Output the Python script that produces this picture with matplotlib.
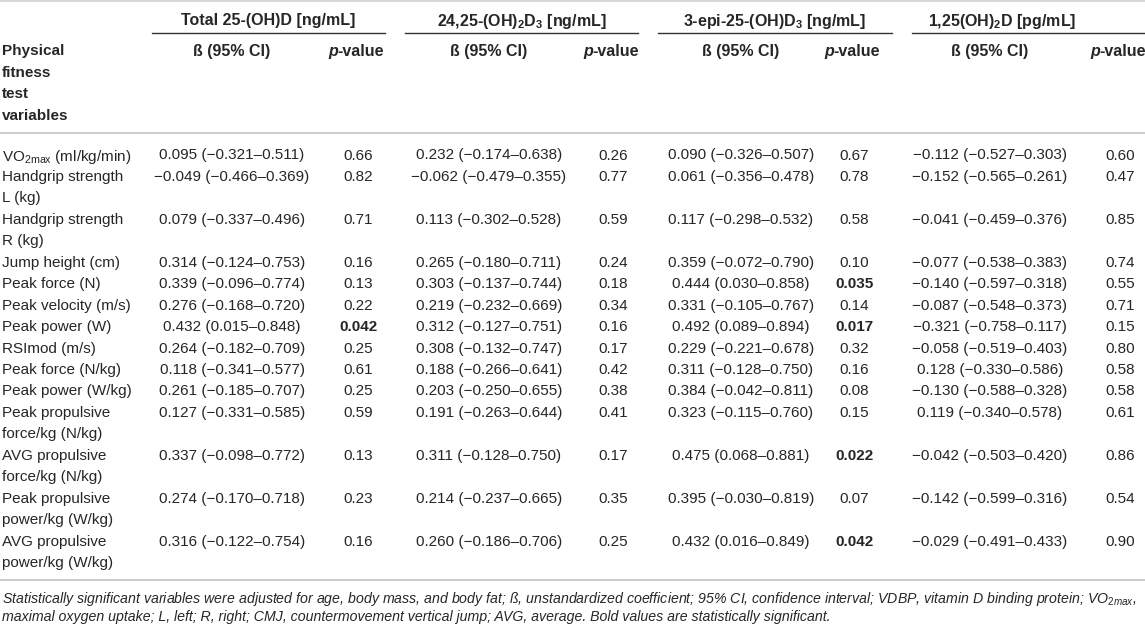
import matplotlib
matplotlib.use("Agg")
import matplotlib.pyplot as plt

# +--------------------------------------------------------+
# |                      Table values                      |
# +--------------------------------------------------------+

row_labels = [
    r"VO$_\mathrm{2max}$ (ml/kg/min)",
    "Handgrip strength\nL (kg)",
    "Handgrip strength\nR (kg)",
    "Jump height (cm)",
    "Peak force (N)",
    "Peak velocity (m/s)",
    "Peak power (W)",
    "RSImod (m/s)",
    "Peak force (N/kg)",
    "Peak power (W/kg)",
    "Peak propulsive\nforce/kg (N/kg)",
    "AVG propulsive\nforce/kg (N/kg)",
    "Peak propulsive\npower/kg (W/kg)",
    "AVG propulsive\npower/kg (W/kg)",
]

groups = [
    "Total 25-(OH)D [ng/mL]",
    r"24,25-(OH)$_\mathbf{2}$D$_\mathbf{3}$ [ng/mL]",
    r"3-epi-25-(OH)D$_\mathbf{3}$ [ng/mL]",
    r"1,25(OH)$_\mathbf{2}$D [pg/mL]",
]

# beta, lower, upper, p-value  (one list per metabolite)
total_beta = [0.095, -0.049, 0.079, 0.314, 0.339, 0.276, 0.432, 0.264, 0.118, 0.261, 0.127, 0.337, 0.274, 0.316]
total_lo = [-0.321, -0.466, -0.337, -0.124, -0.096, -0.168, 0.015, -0.182, -0.341, -0.185, -0.331, -0.098, -0.170, -0.122]
total_hi = [0.511, 0.369, 0.496, 0.753, 0.774, 0.720, 0.848, 0.709, 0.577, 0.707, 0.585, 0.772, 0.718, 0.754]
total_p = ["0.66", "0.82", "0.71", "0.16", "0.13", "0.22", "0.042", "0.25", "0.61", "0.25", "0.59", "0.13", "0.23", "0.16"]

d2425_beta = [0.232, -0.062, 0.113, 0.265, 0.303, 0.219, 0.312, 0.308, 0.188, 0.203, 0.191, 0.311, 0.214, 0.260]
d2425_lo = [-0.174, -0.479, -0.302, -0.180, -0.137, -0.232, -0.127, -0.132, -0.266, -0.250, -0.263, -0.128, -0.237, -0.186]
d2425_hi = [0.638, 0.355, 0.528, 0.711, 0.744, 0.669, 0.751, 0.747, 0.641, 0.655, 0.644, 0.750, 0.665, 0.706]
d2425_p = ["0.26", "0.77", "0.59", "0.24", "0.18", "0.34", "0.16", "0.17", "0.42", "0.38", "0.41", "0.17", "0.35", "0.25"]

epi_beta = [0.090, 0.061, 0.117, 0.359, 0.444, 0.331, 0.492, 0.229, 0.311, 0.384, 0.323, 0.475, 0.395, 0.432]
epi_lo = [-0.326, -0.356, -0.298, -0.072, 0.030, -0.105, 0.089, -0.221, -0.128, -0.042, -0.115, 0.068, -0.030, 0.016]
epi_hi = [0.507, 0.478, 0.532, 0.790, 0.858, 0.767, 0.894, 0.678, 0.750, 0.811, 0.760, 0.881, 0.819, 0.849]
epi_p = ["0.67", "0.78", "0.58", "0.10", "0.035", "0.14", "0.017", "0.32", "0.16", "0.08", "0.15", "0.022", "0.07", "0.042"]

d125_beta = [-0.112, -0.152, -0.041, -0.077, -0.140, -0.087, -0.321, -0.058, 0.128, -0.130, 0.119, -0.042, -0.142, -0.029]
d125_lo = [-0.527, -0.565, -0.459, -0.538, -0.597, -0.548, -0.758, -0.519, -0.330, -0.588, -0.340, -0.503, -0.599, -0.491]
d125_hi = [0.303, 0.261, 0.376, 0.383, 0.318, 0.373, 0.117, 0.403, 0.586, 0.328, 0.578, 0.420, 0.316, 0.433]
d125_p = ["0.60", "0.47", "0.85", "0.74", "0.55", "0.71", "0.15", "0.80", "0.58", "0.58", "0.61", "0.86", "0.54", "0.90"]

footnote = [
    "Statistically significant variables were adjusted for age, body mass, and body fat; ß, unstandardized coefficient; "
    r"95% CI, confidence interval; VDBP, vitamin D binding protein; VO$_\mathit{2max}$,",
    "maximal oxygen uptake; L, left; R, right; CMJ, countermovement vertical jump; AVG, average. "
    "Bold values are statistically significant.",
]

# +--------------------------------------------------------+
# |                        Layout                          |
# +--------------------------------------------------------+

W, H = 1145, 625
beta_x = [232, 489, 741, 990]
p_x = [358, 613, 854, 1120]
group_x = [268, 522, 775, 1002]
group_line = [(152, 385), (405, 638), (658, 892), (912, 1145)]
line_y0 = 154
pitch = 21.45

plt.rcParams['font.family'] = ['Liberation Sans', 'DejaVu Sans']
plt.rcParams['mathtext.fontset'] = 'custom'
plt.rcParams['mathtext.rm'] = 'Liberation Sans'
plt.rcParams['mathtext.it'] = 'Liberation Sans:italic'
plt.rcParams['mathtext.bf'] = 'Liberation Sans:bold'

FS = 11
HFS = 11.5
TXT = '#262626'


def fmt_num(v):
    s = "%.3f" % v
    return s.replace('-', '\u2212')


def fmt_ci(b, lo, hi):
    return "%s (%s\u2013%s)" % (fmt_num(b), fmt_num(lo), fmt_num(hi))


def p_header(ax, xc, y):
    # "p" in bold italic followed by "-value" in bold, centred on xc
    t1 = ax.text(0, y, "p", fontsize=HFS, fontweight='bold', fontstyle='italic',
                 ha='left', va='center_baseline', color=TXT)
    t2 = ax.text(0, y, "-value", fontsize=HFS, fontweight='bold',
                 ha='left', va='center_baseline', color=TXT)
    r = ax.figure.canvas.get_renderer()
    w1 = t1.get_window_extent(r).width
    w2 = t2.get_window_extent(r).width
    # 1 data unit == 1 pixel here
    start = xc - (w1 + w2) / 2.0
    t1.set_x(start)
    t2.set_x(start + w1)


def main():
    fig = plt.figure(figsize=(W / 100, H / 100), dpi=100)
    ax = fig.add_axes([0, 0, 1, 1])
    ax.set_xlim(0, W)
    ax.set_ylim(H, 0)
    ax.axis('off')

    # rules
    ax.plot([0, W], [1, 1], color='#cfcfcf', lw=1.2)
    ax.plot([0, W], [133, 133], color='#c4c4c4', lw=1.2)
    ax.plot([0, W], [580, 580], color='#c4c4c4', lw=1.2)
    for x0, x1 in group_line:
        ax.plot([x0, x1], [33, 33], color='#333333', lw=1.0)

    # headers
    for gx, g in zip(group_x, groups):
        ax.text(gx, 19, g, fontsize=HFS, fontweight='bold', ha='center',
                va='center_baseline', color=TXT)
    for bx, px in zip(beta_x, p_x):
        ax.text(bx, 50, "ß (95% CI)", fontsize=HFS, fontweight='bold',
                ha='center', va='center_baseline', color=TXT)
        p_header(ax, px - 2, 50)

    for i, w in enumerate(["Physical", "fitness", "test", "variables"]):
        ax.text(2, 50 + i * 21.4, w, fontsize=FS, fontweight='bold',
                ha='left', va='center_baseline', color=TXT)

    cols = [
        (total_beta, total_lo, total_hi, total_p),
        (d2425_beta, d2425_lo, d2425_hi, d2425_p),
        (epi_beta, epi_lo, epi_hi, epi_p),
        (d125_beta, d125_lo, d125_hi, d125_p),
    ]

    line = 0
    for r, lab in enumerate(row_labels):
        y = line_y0 + line * pitch
        for k, part in enumerate(lab.split("\n")):
            ax.text(2, y + k * pitch, part, fontsize=FS, ha='left',
                    va='center_baseline', color=TXT)
        for c, (b, lo, hi, p) in enumerate(cols):
            ax.text(beta_x[c], y, fmt_ci(b[r], lo[r], hi[r]), fontsize=FS,
                    ha='center', va='center_baseline', color=TXT)
            bold = float(p[r]) < 0.05
            ax.text(p_x[c], y, p[r], fontsize=FS,
                    fontweight='bold' if bold else 'normal',
                    ha='center', va='center_baseline', color=TXT)
        line += len(lab.split("\n"))

    for i, f in enumerate(footnote):
        ax.text(2, 597 + i * 18.5, f, fontsize=10.2, fontstyle='italic',
                ha='left', va='center_baseline', color=TXT)

    fig.savefig('out.png', dpi=100)
    return 0


if __name__ == "__main__":
    main()
